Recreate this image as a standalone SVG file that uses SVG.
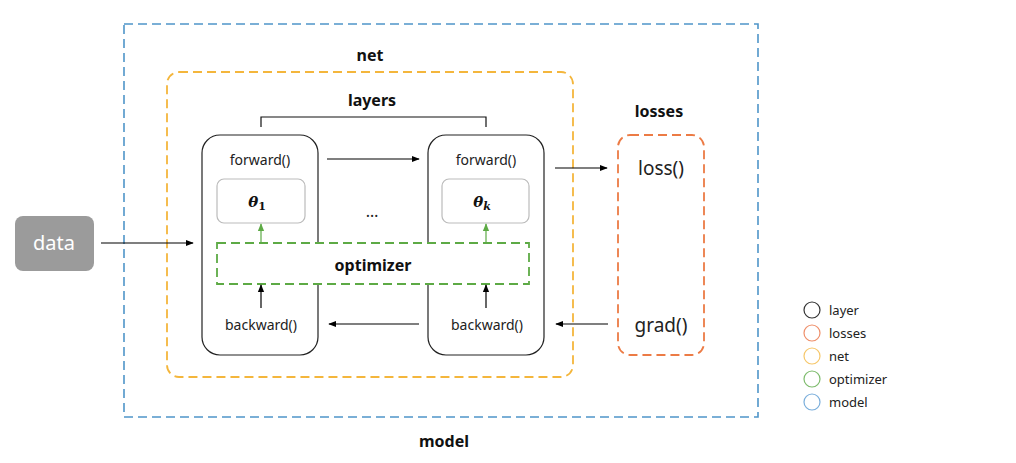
<svg xmlns="http://www.w3.org/2000/svg" width="1016" height="463" viewBox="0 0 1016 463">
<defs>
<marker id="ah" viewBox="0 0 10 10" refX="9" refY="5" markerWidth="8" markerHeight="8" markerUnits="userSpaceOnUse" orient="auto"><path d="M0,1 L10,5 L0,9 z" fill="#000"/></marker>
<marker id="ahg" viewBox="0 0 10 10" refX="9" refY="5" markerWidth="8" markerHeight="8" markerUnits="userSpaceOnUse" orient="auto"><path d="M0,1 L10,5 L0,9 z" fill="#5daa45"/></marker>
<style>
text{font-family:"Noto Sans","Liberation Sans",sans-serif;fill:#111;text-anchor:middle}
.b{font-weight:bold;font-size:16px}
.f{font-size:14px;fill:#222}
.l{font-size:19px;fill:#222}
.lg{font-size:13px;text-anchor:start;fill:#222}
.th{font-family:"DejaVu Serif","Liberation Serif",serif;font-style:italic;font-weight:bold;font-size:15px}
.layer{fill:#fff;stroke:#222;stroke-width:1.2}
.theta{fill:#fff;stroke:#bbb;stroke-width:1.2}
.c{stroke:#000;stroke-width:1.2;fill:none;marker-end:url(#ah)}
.cg{stroke:#5daa45;stroke-width:1.2;fill:none;marker-end:url(#ahg)}
</style>
</defs>
<rect width="1016" height="463" fill="#fff"/>
<g id="model"><rect x="124" y="24" width="634" height="393" fill="none" stroke="#4f95c9" stroke-width="1.6" stroke-dasharray="9,5"/><text class="b" x="444" y="447">model</text></g>
<g id="net"><rect x="167" y="72" width="406" height="305" rx="12" fill="none" stroke="#f4b63c" stroke-width="1.8" stroke-dasharray="9,5"/><text class="b" x="370" y="61">net</text></g>
<g id="layers-label"><text class="b" x="372" y="106">layers</text><path d="M261,127 V117 H486 V127" fill="none" stroke="#111" stroke-width="1.2"/></g>
<g id="layer1"><rect class="layer" x="202" y="135" width="116" height="220" rx="18"/><text class="f" x="260" y="165">forward()</text><rect class="theta" x="217" y="179" width="88" height="44" rx="7"/><text class="th" x="257" y="207">θ<tspan font-size="11" dy="3" font-style="normal">1</tspan></text><text class="f" x="261" y="330">backward()</text></g>
<g id="layerk"><rect class="layer" x="428" y="135" width="116" height="220" rx="18"/><text class="f" x="486" y="165">forward()</text><rect class="theta" x="442" y="179" width="87" height="44" rx="7"/><text class="th" x="482" y="207">θ<tspan font-size="11" dy="3">k</tspan></text><text class="f" x="487" y="330">backward()</text></g>
<g id="dots"><text x="372" y="217" font-size="16" style="fill:#222">…</text></g>
<g id="optimizer"><rect x="217" y="243" width="312" height="41" fill="#fff" stroke="#5daa45" stroke-width="1.8" stroke-dasharray="9,5"/><text class="b" x="373" y="271">optimizer</text></g>
<g id="losses"><rect x="618" y="135" width="86" height="220" rx="12" fill="none" stroke="#ec7b45" stroke-width="1.8" stroke-dasharray="9,5"/><text class="b" x="659" y="117">losses</text><text class="l" x="661" y="175">loss()</text><text class="l" x="661" y="332">grad()</text></g>
<g id="data"><rect x="15" y="216" width="79" height="55" rx="8" fill="#9b9b9b"/><text x="54" y="250" font-size="20" style="fill:#fff">data</text></g>
<g id="connectors">
<path class="c" d="M101,243 H193"/>
<path class="c" d="M327,159 H419"/>
<path class="c" d="M419,324 H329"/>
<path class="c" d="M555,168 H607"/>
<path class="c" d="M608,324 H556"/>
<path class="c" d="M261,308 V285"/>
<path class="c" d="M486,308 V285"/>
<path class="cg" d="M261,243 V224"/>
<path class="cg" d="M486,243 V224"/>
</g>
<g id="legend">
<circle cx="812" cy="310" r="8" fill="none" stroke="#333" stroke-width="1.2"/><text class="lg" x="829" y="315">layer</text>
<circle cx="812" cy="333" r="8" fill="none" stroke="#ef8f6a" stroke-width="1.2"/><text class="lg" x="829" y="338">losses</text>
<circle cx="812" cy="356" r="8" fill="none" stroke="#f6c76a" stroke-width="1.2"/><text class="lg" x="829" y="361">net</text>
<circle cx="812" cy="379" r="8" fill="none" stroke="#7dbb6c" stroke-width="1.2"/><text class="lg" x="829" y="384">optimizer</text>
<circle cx="812" cy="402" r="8" fill="none" stroke="#7aaedb" stroke-width="1.2"/><text class="lg" x="829" y="407">model</text>
</g>
</svg>
